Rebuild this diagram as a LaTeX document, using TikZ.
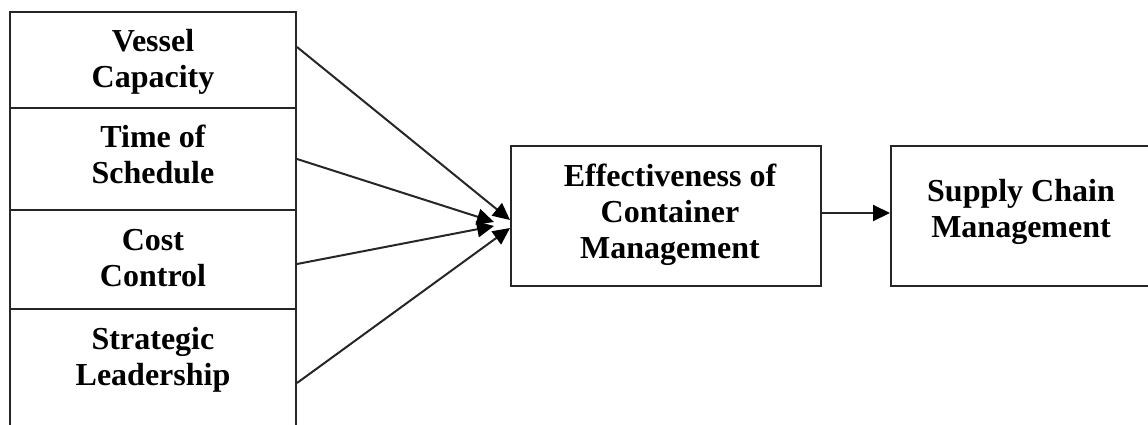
\documentclass[tikz,border=0pt]{standalone}
\usepackage{fontspec}
\setmainfont{Liberation Serif}
\usetikzlibrary{arrows.meta}
\begin{document}
\begin{tikzpicture}[x=1pt,y=-1pt,
  box/.style={draw=black!85,line width=2pt,rectangle,inner sep=0pt},
  lbl/.style={font=\fontsize{32}{36}\selectfont\bfseries,align=center,anchor=base,inner sep=0pt},
  conn/.style={draw=black!85,line width=2pt,-{Triangle[length=17pt,width=16pt,color=black]}}]
\clip (0,0) rectangle (1148,424);
\node[box,minimum width=286pt,minimum height=96pt] (b1) at (153,60) {};
\node[box,minimum width=286pt,minimum height=102pt] (b2) at (153,159) {};
\node[box,minimum width=286pt,minimum height=99pt] (b3) at (153,259.5) {};
\node[box,minimum width=286pt,minimum height=121pt] (b4) at (153,369.5) {};
\node[box,minimum width=310pt,minimum height=140pt] (m) at (666,216) {};
\node[box,minimum width=262pt,minimum height=140pt] (r) at (1022,216) {};
\node[lbl] (t1) at (153,87) {Vessel\\Capacity};
\node[lbl] (t2) at (153,183) {Time of\\Schedule};
\node[lbl] (t3) at (153,286) {Cost\\Control};
\node[lbl] (t4) at (153,385) {Strategic\\Leadership};
\node[lbl] (tm) at (670,258) {Effectiveness of\\Container\\Management};
\node[lbl] (tr) at (1021,237) {Supply Chain\\Management};
\draw[conn] ([yshift=13pt]b1.east) -- ([yshift=-4pt]m.west);
\draw[conn] (b2.east) -- ([xshift=-16pt,yshift=-6pt]m.west);
\draw[conn] ([yshift=-4.5pt]b3.east) -- ([xshift=-16pt,yshift=-10pt]m.west);
\draw[conn] ([yshift=-13.5pt]b4.east) -- ([yshift=-12pt]m.west);
\draw[conn] ([yshift=3pt]m.east) -- ([yshift=3pt]r.west);
\end{tikzpicture}
\end{document}
